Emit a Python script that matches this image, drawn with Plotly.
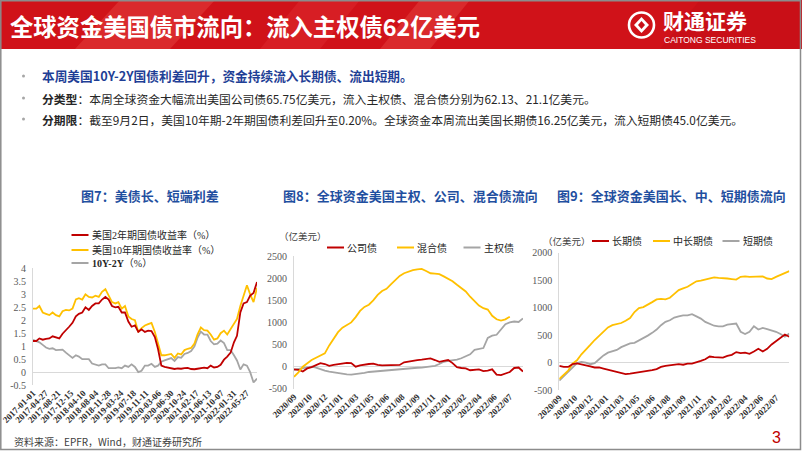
import plotly.graph_objects as go

W, H = 802, 451
def X(p): return p / W
def Y(p): return 1 - p / H

RED = '#c00000'
YEL = '#ffc000'
GRY = '#a5a5a5'
BLUE_T = '#1f4fa0'
SERIF = 'Liberation Serif, Noto Sans CJK SC, serif'
SANS = 'Noto Sans CJK SC, sans-serif'

# ---------------- data: chart 7 (monthly samples, %) ----------------
c7_dates = [f"{y}-{m:02d}-01" for y in range(2017, 2023) for m in range(1, 13)
            if (y, m) <= (2022, 8)] + ["2022-09-02"]
c7_us2y = [1.20, 1.20, 1.30, 1.25, 1.28, 1.30, 1.38, 1.35, 1.30, 1.48, 1.60, 1.75,
           1.90, 2.15, 2.25, 2.30, 2.50, 2.40, 2.55, 2.65, 2.65, 2.80, 2.90, 2.80,
           2.55, 2.50, 2.52, 2.30, 2.30, 1.95, 1.75, 1.80, 1.55, 1.65, 1.55, 1.60,
           1.58, 1.35, 0.90, 0.25, 0.20, 0.17, 0.16, 0.12, 0.14, 0.13, 0.15, 0.16,
           0.12, 0.11, 0.13, 0.16, 0.17, 0.15, 0.25, 0.18, 0.20, 0.28, 0.48, 0.60,
           0.75, 1.15, 1.40, 2.30, 2.65, 2.70, 2.95, 3.05, 3.48]
c7_us10y = [2.45, 2.45, 2.55, 2.30, 2.25, 2.20, 2.30, 2.20, 2.15, 2.35, 2.40, 2.38,
            2.45, 2.80, 2.85, 2.80, 3.00, 2.90, 2.88, 2.95, 2.90, 3.10, 3.20, 2.95,
            2.70, 2.65, 2.70, 2.45, 2.55, 2.15, 2.05, 2.00, 1.55, 1.70, 1.80, 1.85,
            1.90, 1.55, 1.15, 0.65, 0.65, 0.68, 0.70, 0.55, 0.72, 0.68, 0.85, 0.90,
            0.93, 1.10, 1.45, 1.72, 1.62, 1.60, 1.45, 1.25, 1.30, 1.50, 1.60, 1.45,
            1.65, 1.85, 2.05, 2.55, 2.95, 3.35, 3.00, 2.70, 3.25]
c7_spread = [1.25, 1.20, 1.15, 1.05, 0.95, 0.90, 0.92, 0.85, 0.85, 0.87, 0.75, 0.65,
             0.55, 0.65, 0.60, 0.50, 0.50, 0.50, 0.33, 0.30, 0.25, 0.30, 0.30, 0.15,
             0.15, 0.15, 0.18, 0.15, 0.25, 0.20, 0.30, 0.20, 0.00, 0.05, 0.25, 0.25,
             0.32, 0.20, 0.25, 0.40, 0.45, 0.51, 0.54, 0.43, 0.58, 0.55, 0.70, 0.74,
             0.81, 0.99, 1.32, 1.56, 1.45, 1.45, 1.20, 1.07, 1.10, 1.22, 1.12, 0.85,
             0.85, 0.65, 0.45, 0.10, 0.30, 0.25, 0.00, -0.40, -0.25]
c7_ticks = ["2017-01-01", "2017-04-27", "2017-08-21", "2017-12-15", "2018-04-10",
            "2018-08-04", "2018-11-28", "2019-03-24", "2019-07-18", "2019-11-11",
            "2020-03-06", "2020-06-30", "2020-10-24", "2021-02-17", "2021-06-13",
            "2021-10-07", "2022-01-31", "2022-05-27"]
c7_yticks = [4, 3.5, 3, 2.5, 2, 1.5, 1, 0.5, 0, -0.5]
c7_ytext = ["4", "3.5", "3", "2.5", "2", "1.5", "1", "0.5", "0", "-0.5"]

# ---------------- data: charts 8 & 9 (bi-weekly samples, 亿美元) ----------------
wk = list(range(0, 105, 2))
wk_tickpos = list(range(0, 99, 7))
wk_ticks = ["2020/09", "2020/10", "2020/12", "2021/01", "2021/03", "2021/05", "2021/06",
            "2021/08", "2021/09", "2021/11", "2022/01", "2022/02", "2022/04", "2022/06",
            "2022/07"]

c8_corp = [-60, -70, -110, -40, -10, 40, 80, 60, 20, 40,
           60, 70, 85, 80, 0, 30, 50, 60, 70, 40,
           30, 30, 25, 30, 40, 100, 120, 140, 150, 160,
           170, 185, 150, 110, 130, 150, 80, -10, -30, -40,
           -80, -70, -60, -100, -90, -60, -180, -190, -160, -120,
           -30, -20, -110]
c8_mixed = [-230, -130, 0, 80, 150, 200, 250, 300, 480, 630,
            780, 880, 940, 1000, 1120, 1260, 1350, 1400, 1500, 1620,
            1710, 1760, 1860, 1960, 2050, 2110, 2150, 2180, 2200, 2210,
            2160, 2110, 2100, 2090, 2040, 1980, 1930, 1850, 1780, 1700,
            1580, 1470, 1380, 1320, 1290, 1150, 1070, 1040, 1070, 1130,
            None, None, None]
c8_sov = [-70, -50, -30, -10, 0, -20, -60, -90, -110, -130,
          -150, -165, -175, -180, -170, -150, -140, -120, -110, -100,
          -90, -80, -70, -60, -50, -45, -40, -30, -25, -20,
          -10, 0, 20, 60, 110, 130, 140, 160, 190, 230,
          280, 380, 400, 420, 650, 700, 720, 850, 960, 1000,
          1020, 1010, 1090]
c8_yticks = [2500, 2000, 1500, 1000, 500, 0, -500]
c8_ytext = ["2500", "2000", "1500", "1000", "500", "0", "-500"]

c9_long = [-60, -80, -80, -30, -15, -30, -50, -70, -90, -90,
           -110, -130, -150, -170, -180, -210, -200, -190, -180, -170,
           -160, -140, -120, -80, -60, -50, -40, -30, -40, -20,
           -20, 0, 30, 60, 110, 100, 90, 90, 120, 140,
           190, 170, 180, 160, 200, 250, 200, 250, 330, 390,
           460, 510, 470]
c9_mid = [-300, -220, -150, -20, 40, 150, 230, 320, 410, 490,
          570, 640, 680, 700, 720, 760, 810, 920, 990, 1010,
          1050, 1100, 1150, 1160, 1150, 1180, 1250, 1320, 1350, 1380,
          1430, 1480, 1490, 1510, 1540, 1550, 1540, 1540, 1530, 1520,
          1510, 1560, 1570, 1560, 1560, 1570, 1570, 1530, 1520, 1560,
          1600, 1640, 1665]
c9_short = [-330, -250, -180, -90, -10, 10, 0, -30, -10, 60,
            130, 180, 200, 230, 280, 320, 350, 360, 400, 450,
            490, 540, 600, 680, 740, 770, 820, 840, 860, 860,
            880, 840, 800, 740, 700, 670, 660, 660, 690, 700,
            710, 560, 520, 560, 660, 600, 630, 610, 590, 560,
            520, 470, 530]
c9_yticks = [2000, 1500, 1000, 500, 0, -500]
c9_ytext = ["2000", "1500", "1000", "500", "0", "-500"]

fig = go.Figure()

# chart 7 traces
fig.add_trace(go.Scatter(x=c7_dates, y=c7_spread, name='10Y-2Y（%）', mode='lines',
                         line=dict(color=GRY, width=1.8), xaxis='x', yaxis='y'))
fig.add_trace(go.Scatter(x=c7_dates, y=c7_us10y, name='美国10年期国债收益率（%）', mode='lines',
                         line=dict(color=YEL, width=1.8), xaxis='x', yaxis='y'))
fig.add_trace(go.Scatter(x=c7_dates, y=c7_us2y, name='美国2年期国债收益率（%）', mode='lines',
                         line=dict(color=RED, width=1.8), xaxis='x', yaxis='y'))
# chart 8
fig.add_trace(go.Scatter(x=wk, y=c8_sov, name='主权债', mode='lines',
                         line=dict(color=GRY, width=1.8), xaxis='x2', yaxis='y2'))
fig.add_trace(go.Scatter(x=wk, y=c8_corp, name='公司债', mode='lines',
                         line=dict(color=RED, width=1.8), xaxis='x2', yaxis='y2'))
fig.add_trace(go.Scatter(x=wk, y=c8_mixed, name='混合债', mode='lines',
                         line=dict(color=YEL, width=1.8), xaxis='x2', yaxis='y2'))
# chart 9
fig.add_trace(go.Scatter(x=wk, y=c9_short, name='短期债', mode='lines',
                         line=dict(color=GRY, width=1.8), xaxis='x3', yaxis='y3'))
fig.add_trace(go.Scatter(x=wk, y=c9_mid, name='中长期债', mode='lines',
                         line=dict(color=YEL, width=1.8), xaxis='x3', yaxis='y3'))
fig.add_trace(go.Scatter(x=wk, y=c9_long, name='长期债', mode='lines',
                         line=dict(color=RED, width=1.8), xaxis='x3', yaxis='y3'))

tickfont_x = dict(family=SERIF, size=9, color='#303030')
tickfont_y = dict(family=SERIF, size=10, color='#595959')
common_y = dict(showgrid=False, showline=True, linecolor='#d9d9d9', linewidth=1,
                zeroline=True, zerolinecolor='#d9d9d9', zerolinewidth=1,
                ticks='', tickfont=tickfont_y, ticklabelstandoff=4, automargin=False)
common_x = dict(showgrid=False, showline=False, zeroline=False, ticks='',
                tickangle=-45, tickfont=tickfont_x, automargin=False)

def bold(lst):
    return [f'<b>{s}</b>' for s in lst]

fig.update_layout(
    width=W, height=H, margin=dict(l=0, r=0, t=0, b=0, pad=0, autoexpand=False),
    paper_bgcolor='white', plot_bgcolor='rgba(0,0,0,0)', showlegend=False,
    xaxis=dict(domain=[X(33), X(257)], type='date', range=['2017-01-01', '2022-09-02'],
               tickmode='array', tickvals=c7_ticks, ticktext=bold(c7_ticks), anchor='y', **common_x),
    yaxis=dict(domain=[Y(385.2), Y(268.3)], range=[-0.505, 4.005], tickmode='array',
               tickvals=c7_yticks, ticktext=c7_ytext, anchor='x', **common_y),
    xaxis2=dict(domain=[X(294), X(523)], range=[0, 104], tickmode='array',
                tickvals=wk_tickpos, ticktext=bold(wk_ticks), anchor='y2', **common_x),
    yaxis2=dict(domain=[Y(388.8), Y(256)], range=[-500, 2500], tickmode='array',
                tickvals=c8_yticks, ticktext=c8_ytext, anchor='x2', **common_y),
    xaxis3=dict(domain=[X(559.3), X(789.3)], range=[0, 104], tickmode='array',
                tickvals=wk_tickpos, ticktext=bold(wk_ticks), anchor='y3', **common_x),
    yaxis3=dict(domain=[Y(390), Y(252.7)], range=[-500, 2000], tickmode='array',
                tickvals=c9_yticks, ticktext=c9_ytext, anchor='x3', **common_y),
)

shapes = []
annots = []

def rect(x0, y0, x1, y1, fill, line=None, layer='below'):
    shapes.append(dict(type='rect', xref='paper', yref='paper', x0=X(x0), x1=X(x1),
                       y0=Y(y1), y1=Y(y0), fillcolor=fill,
                       line=line or dict(width=0), layer=layer))

def poly(pts, fill):
    d = 'M ' + ' L '.join(f'{X(a):.5f},{Y(b):.5f}' for a, b in pts) + ' Z'
    shapes.append(dict(type='path', xref='paper', yref='paper', path=d,
                       fillcolor=fill, line=dict(width=0), layer='below'))

def text(x, y, s, size, color, family=SANS, xanchor='left', yanchor='middle'):
    annots.append(dict(x=X(x), y=Y(y), xref='paper', yref='paper', text=s, showarrow=False,
                       xanchor=xanchor, yanchor=yanchor,
                       font=dict(family=family, size=size, color=color)))

# title bar
rect(0, 0, 802, 49, '#d01219')
poly([(120, 0), (215, 0), (170, 49), (75, 49)], '#da2a2c')
poly([(300, 0), (360, 0), (320, 49), (260, 49)], '#d71e24')
poly([(420, 0), (470, 0), (430, 49), (380, 49)], '#da2a2c')
poly([(700, 0), (802, 0), (802, 49), (660, 49)], '#c90f17')
text(8, 26, '<b>全球资金美国债市流向：流入主权债62亿美元</b>', 23.3, 'white')
# logo
shapes.append(dict(type='circle', xref='paper', yref='paper', x0=X(629), x1=X(654),
                   y0=Y(37.5), y1=Y(12.5), line=dict(color='white', width=2.6)))
poly([(641.5, 17), (649, 25), (641.5, 33), (634, 25)], 'white')
poly([(641.5, 21), (645, 25), (641.5, 29), (638, 25)], '#c90f17')
text(661, 20, '<b>财通证券</b>', 21, 'white')
text(662, 40, 'CAITONG SECURITIES', 8.5, 'white', family='Liberation Sans, Arial, sans-serif')

# bullets
for yy in (76, 98, 119):
    shapes.append(dict(type='circle', xref='paper', yref='paper', x0=X(22), x1=X(25),
                       y0=Y(yy + 1.5), y1=Y(yy - 1.5), fillcolor='#a6a6a6',
                       line=dict(width=0)))
text(40, 76, '<b>本周美国10Y-2Y国债利差回升，资金持续流入长期债、流出短期。</b>', 12.7, '#1f3f96')
text(40, 98, '<b>分类型</b>：本周全球资金大幅流出美国公司债65.75亿美元，流入主权债、混合债分别为62.13、21.1亿美元。',
     11.8, '#262626')
text(40, 119, '<b>分期限</b>：截至9月2日，美国10年期-2年期国债利差回升至0.20%。全球资金本周流出美国长期债16.25亿美元，流入短期债45.0亿美元。',
     11.8, '#262626')

# chart titles
text(149.5, 195, '<b>图7：美债长、短端利差</b>', 13, BLUE_T, xanchor='center')
text(410.5, 195, '<b>图8：全球资金美国主权、公司、混合债流向</b>', 13, BLUE_T, xanchor='center')
text(671.5, 195, '<b>图9：全球资金美国长、中、短期债流向</b>', 13, BLUE_T, xanchor='center')

# manual legends
def leg(x0, y, color, s):
    shapes.append(dict(type='line', xref='paper', yref='paper', x0=X(x0), x1=X(x0 + 17),
                       y0=Y(y), y1=Y(y), line=dict(color=color, width=2)))
    text(x0 + 18, y, s, 10, '#262626', family=SERIF)

leg(71.5, 235, RED, '美国2年期国债收益率（%）')
leg(71.5, 250, YEL, '美国10年期国债收益率（%）')
leg(71.5, 263, GRY, '<b>10Y-2Y</b>（%）')

text(277, 236.5, '（亿美元）', 9.5, '#404040', family=SERIF)
leg(327, 247.5, RED, '公司债')
leg(397, 247.5, YEL, '混合债')
leg(463.5, 247.5, GRY, '主权债')

text(541, 241, '（亿美元）', 9.5, '#404040', family=SERIF)
leg(592, 241, RED, '长期债')
leg(653, 241, YEL, '中长期债')
leg(722.5, 241, GRY, '短期债')

# footer
text(12, 441, '资料来源：EPFR，Wind，财通证券研究所', 10, '#404040')
text(776, 437, '3', 16, '#c00000', family='Liberation Sans, Arial, sans-serif', xanchor='center')

# slide frame
shapes.append(dict(type='rect', xref='paper', yref='paper', x0=X(0.8), x1=X(800.5),
                   y0=Y(449.5), y1=Y(0.8), line=dict(color='#8c8c8c', width=1.5),
                   fillcolor='rgba(0,0,0,0)', layer='above'))

fig.update_layout(shapes=shapes, annotations=annots)
fig.write_html("out.html", config={'displayModeBar': False},
               post_script="document.body.style.margin='0px';document.body.style.overflow='hidden';")
